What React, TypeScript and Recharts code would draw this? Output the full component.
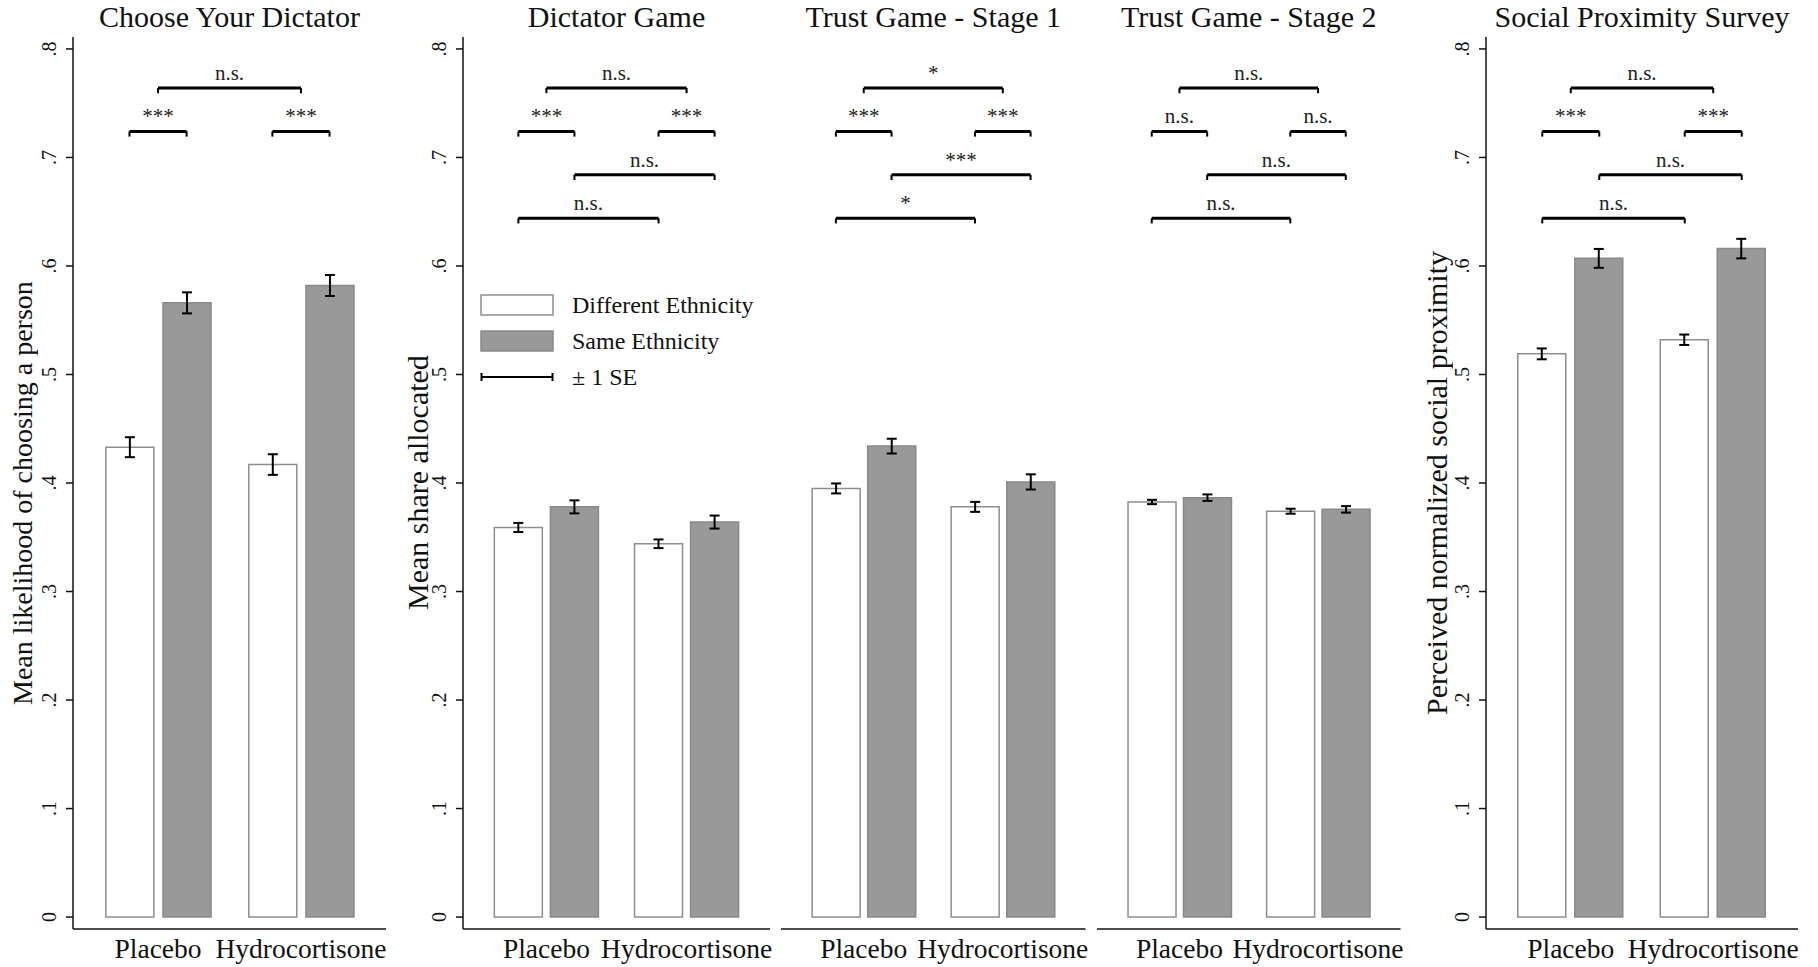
import React from "react";
import { BarChart, Bar, Cell, XAxis, YAxis, ErrorBar, ReferenceLine, Legend } from "recharts";

const FONT = '"Liberation Serif", "Times New Roman", serif';

const panelTitles = [
  "Choose Your Dictator",
  "Dictator Game",
  "Trust Game - Stage 1",
  "Trust Game - Stage 2",
  "Social Proximity Survey",
];
const axisTitles = [
  "Mean likelihood of choosing a person",
  "Mean share allocated",
  "",
  "",
  "Perceived normalized social proximity",
];
const treatments = ["Placebo", "Hydrocortisone"];
const legendLabels = ["Different Ethnicity", "Same Ethnicity", "± 1 SE"];

// one row per panel, [placebo, hydrocortisone]
const differentMeans = [
  [0.433, 0.417],
  [0.359, 0.344],
  [0.395, 0.378],
  [0.3825, 0.374],
  [0.519, 0.532],
];
const sameMeans = [
  [0.566, 0.582],
  [0.378, 0.364],
  [0.434, 0.401],
  [0.3865, 0.3757],
  [0.607, 0.616],
];
const differentSE = [
  [0.0092, 0.0095],
  [0.0042, 0.004],
  [0.0046, 0.0046],
  [0.002, 0.0023],
  [0.005, 0.0048],
];
const sameSE = [
  [0.0097, 0.0097],
  [0.006, 0.006],
  [0.0068, 0.007],
  [0.003, 0.003],
  [0.0087, 0.009],
];

const groupCenters = [1, 2];
const barOffsets = [-0.2, 0.2];

const yTickValues = [0, 0.1, 0.2, 0.3, 0.4, 0.5, 0.6, 0.7, 0.8];
const yTickLabels = ["0", ".1", ".2", ".3", ".4", ".5", ".6", ".7", ".8"];

// significance brackets: [from, to] on the x scale, height on the y scale
const bracketSpans = [
  [1, 2],
  [0.8, 1.2],
  [1.8, 2.2],
  [1.2, 2.2],
  [0.8, 1.8],
];
const bracketLevels = [0.764, 0.724, 0.724, 0.684, 0.644];
const bracketLabels = [
  ["n.s.", "***", "***"],
  ["n.s.", "***", "***", "n.s.", "n.s."],
  ["*", "***", "***", "***", "*"],
  ["n.s.", "n.s.", "n.s.", "n.s.", "n.s."],
  ["n.s.", "***", "***", "n.s.", "n.s."],
];

const panels = [
  { left: 0, width: 386, axis: true, titleX: 6, titleShift: 10, titleSize: 28 },
  { left: 390, width: 380, axis: true, titleX: 401, titleShift: 0, titleSize: 30 },
  { left: 781, width: 304.5, axis: false, titleX: 0, titleShift: 0, titleSize: 30 },
  { left: 1097, width: 303.5, axis: false, titleX: 0, titleShift: 0, titleSize: 30 },
  { left: 1413, width: 385, axis: true, titleX: 1420, titleShift: 0, titleSize: 30 },
];

const Y_AXIS_W = 73;
const CHART_H = 967;
const SPARE_RIGHT = 20; // room for the tick label overhanging the plot
const WHITE_STROKE = "#8e8e8e";
const GRAY_FILL = "#999999";
const GRAY_STROKE = "#898989";

const XTick = (props: any) => {
  const i = groupCenters.indexOf(props.payload.value);
  return (
    <text x={props.x} y={props.y + 29} textAnchor="middle" fontSize={27.5} fill="#111" fontFamily={FONT}>
      {treatments[i]}
    </text>
  );
};

const YTick = (props: any) => {
  const { x, y, payload } = props;
  const i = yTickValues.findIndex((v) => Math.abs(v - payload.value) < 1e-9);
  return (
    <text x={x} y={y} transform={`rotate(-90, ${x}, ${y})`} textAnchor="middle" fontSize={20} fill="#111" fontFamily={FONT}>
      {yTickLabels[i]}
    </text>
  );
};

const LegendBox = () => (
  <div style={{ fontFamily: FONT, fontSize: 24, color: "#111", textAlign: "left" }}>
    {legendLabels.map((lab, i) => (
      <div key={lab} style={{ display: "flex", alignItems: "center", height: 36 }}>
        <svg width={74} height={24} style={{ display: "block" }}>
          {i === 0 && <rect x={1} y={2} width={72} height={20} fill="#fff" stroke={WHITE_STROKE} strokeWidth={1.5} />}
          {i === 1 && <rect x={1} y={2} width={72} height={20} fill={GRAY_FILL} stroke={GRAY_STROKE} strokeWidth={1.5} />}
          {i === 2 && (
            <g stroke="#000" strokeWidth={2}>
              <line x1={1} y1={12} x2={73} y2={12} />
              <line x1={1.5} y1={8} x2={1.5} y2={16} />
              <line x1={72.5} y1={8} x2={72.5} y2={16} />
            </g>
          )}
        </svg>
        <span style={{ marginLeft: 18 }}>{lab}</span>
      </div>
    ))}
  </div>
);

function Panel({ p }: { p: number }) {
  const cfg = panels[p];
  const rows = treatments.flatMap((t, i) => [
    { x: groupCenters[i] + barOffsets[0], mean: differentMeans[p][i], se: differentSE[p][i], kind: 0 },
    { x: groupCenters[i] + barOffsets[1], mean: sameMeans[p][i], se: sameSE[p][i], kind: 1 },
  ]);
  const tickLen = 0.0048;

  return (
    <div style={{ position: "absolute", left: cfg.left, top: 0 }}>
      <BarChart
        width={cfg.width + SPARE_RIGHT}
        height={CHART_H}
        data={rows}
        margin={{ top: 37, right: SPARE_RIGHT, bottom: 0, left: 0 }}
      >
        <XAxis
          dataKey="x"
          type="number"
          domain={[0.405, 2.595]}
          ticks={groupCenters}
          interval={0}
          height={38}
          tickLine={false}
          tickSize={0}
          tickMargin={0}
          axisLine={{ stroke: "#111", strokeWidth: 1.5 }}
          tick={XTick}
          allowDataOverflow
        />
        <YAxis
          hide={!cfg.axis}
          width={Y_AXIS_W}
          domain={[-0.011, 0.811]}
          ticks={yTickValues}
          interval={0}
          tickSize={7}
          tickMargin={10}
          tickLine={{ stroke: "#111", strokeWidth: 1.5 }}
          axisLine={{ stroke: "#111", strokeWidth: 1.5 }}
          tick={YTick}
          allowDataOverflow
        />
        <Bar dataKey="mean" barSize={48} isAnimationActive={false}>
          {rows.map((r, i) => (
            <Cell
              key={i}
              fill={r.kind === 0 ? "#ffffff" : GRAY_FILL}
              stroke={r.kind === 0 ? WHITE_STROKE : GRAY_STROKE}
              strokeWidth={1.5}
            />
          ))}
          <ErrorBar dataKey="se" width={5} stroke="#000" strokeWidth={2} direction="y" />
        </Bar>
        {bracketLabels[p].map((lab, k) => {
          const [a, b] = bracketSpans[k];
          const lev = bracketLevels[k];
          return [
            <ReferenceLine
              key={`h${k}`}
              segment={[{ x: a, y: lev }, { x: b, y: lev }]}
              stroke="#000"
              strokeWidth={3}
              label={{ value: lab, position: "top", offset: 8, fontSize: 21, fill: "#222", fontFamily: FONT }}
            />,
            <ReferenceLine key={`l${k}`} segment={[{ x: a, y: lev }, { x: a, y: lev - tickLen }]} stroke="#000" strokeWidth={2} />,
            <ReferenceLine key={`r${k}`} segment={[{ x: b, y: lev }, { x: b, y: lev - tickLen }]} stroke="#000" strokeWidth={2} />,
          ];
        })}
        {p === 1 && (
          <Legend
            layout="horizontal"
            verticalAlign="middle"
            align="center"
            content={LegendBox}
            wrapperStyle={{ left: 90, top: 287, width: 300, height: 108 }}
          />
        )}
      </BarChart>
    </div>
  );
}

export default function App() {
  return (
    <div style={{ position: "absolute", left: 0, top: 0, width: 1818, height: 967, background: "#fff", fontFamily: FONT, color: "#111" }}>
      {panels.map((cfg, p) => {
        const plotLeft = cfg.left + (cfg.axis ? Y_AXIS_W : 0);
        const plotWidth = cfg.width - (cfg.axis ? Y_AXIS_W : 0);
        return (
          <React.Fragment key={p}>
            <Panel p={p} />
            <div
              style={{
                position: "absolute",
                left: plotLeft - 40,
                width: plotWidth + 80,
                top: 0,
                fontSize: 30,
                lineHeight: "34px",
                textAlign: "center",
                whiteSpace: "nowrap",
              }}
            >
              {panelTitles[p]}
            </div>
            {axisTitles[p] && (
              <div
                style={{
                  position: "absolute",
                  left: cfg.titleX,
                  top: 37 + cfg.titleShift,
                  height: 892,
                  width: 34,
                  fontSize: cfg.titleSize,
                  lineHeight: "34px",
                  writingMode: "vertical-rl",
                  transform: "rotate(180deg)",
                  textAlign: "center",
                  whiteSpace: "nowrap",
                }}
              >
                {axisTitles[p]}
              </div>
            )}
          </React.Fragment>
        );
      })}
    </div>
  );
}
